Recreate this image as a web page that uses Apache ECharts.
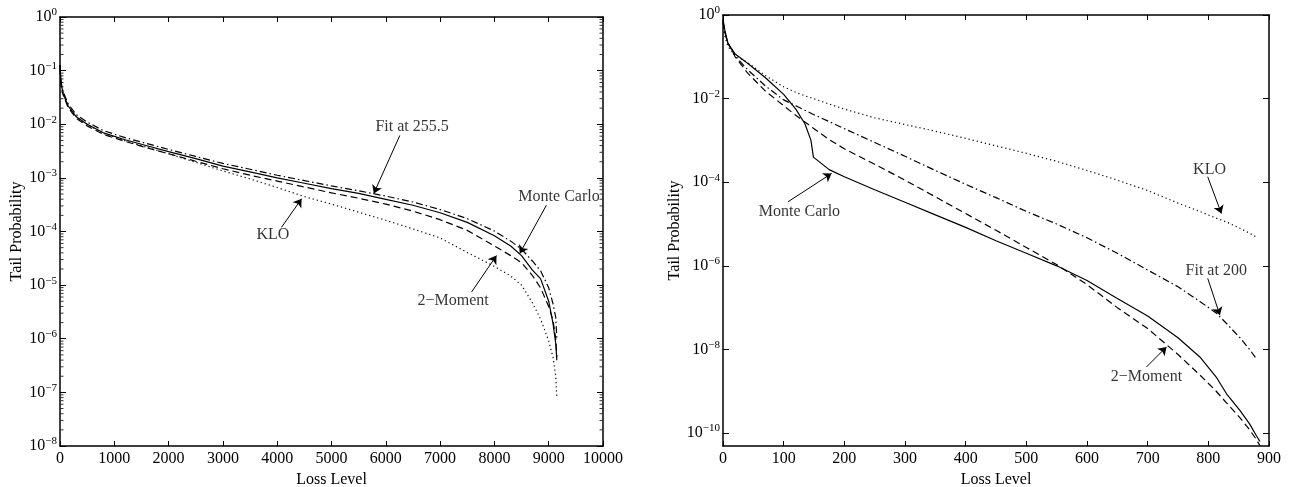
<!DOCTYPE html>
<html><head><meta charset="utf-8">
<script src="https://cdn.jsdelivr.net/npm/echarts@6/dist/echarts.min.js"></script>
<style>html,body{margin:0;padding:0;background:#fff}#c{width:1293px;height:487px}</style>
</head><body><div id="c"></div>
<script>
// ---------- Left panel data ----------
const leftX = [0, 20, 60, 150, 300, 500, 800, 1200, 1600, 2000, 2500, 3000, 3500, 4000, 4500, 5000, 5500, 6000, 6500, 7000, 7500, 8000, 8300, 8500, 8700, 8850, 9000, 9080, 9130, 9150];
const leftMonteCarlo = [1.26e-1, 5.62e-2, 3.72e-2, 2.19e-2, 1.38e-2, 1.0e-2, 6.92e-3, 5.13e-3, 3.98e-3, 3.09e-3, 2.29e-3, 1.66e-3, 1.29e-3, 1.0e-3, 7.94e-4, 6.31e-4, 5.13e-4, 3.98e-4, 3.09e-4, 2.24e-4, 1.48e-4, 8.32e-5, 5.37e-5, 3.55e-5, 1.91e-5, 1.32e-5, 5.01e-6, 1.91e-6, 8.13e-7, 3.98e-7];
const leftFit255 = [1.26e-1, 6.03e-2, 3.98e-2, 2.40e-2, 1.51e-2, 1.10e-2, 7.59e-3, 5.62e-3, 4.37e-3, 3.39e-3, 2.51e-3, 1.86e-3, 1.45e-3, 1.12e-3, 8.91e-4, 7.08e-4, 5.75e-4, 4.57e-4, 3.55e-4, 2.57e-4, 1.74e-4, 1.02e-4, 6.61e-5, 4.68e-5, 2.82e-5, 1.86e-5, 8.91e-6, 4.47e-6, 2.51e-6, 1.0e-6];
const leftTwoMoment = [1.12e-1, 5.25e-2, 3.47e-2, 2.04e-2, 1.29e-2, 9.33e-3, 6.46e-3, 4.79e-3, 3.63e-3, 2.82e-3, 2.04e-3, 1.48e-3, 1.12e-3, 8.71e-4, 6.76e-4, 5.25e-4, 4.17e-4, 3.24e-4, 2.40e-4, 1.66e-4, 1.05e-4, 5.37e-5, 3.55e-5, 2.63e-5, 1.51e-5, 8.91e-6, 3.98e-6, 2.19e-6, 1.0e-6, 4.57e-7];
const leftKLO = [1.26e-1, 5.62e-2, 3.72e-2, 2.19e-2, 1.38e-2, 1.0e-2, 6.76e-3, 4.90e-3, 3.72e-3, 2.82e-3, 1.95e-3, 1.35e-3, 9.55e-4, 6.61e-4, 4.47e-4, 3.24e-4, 2.29e-4, 1.62e-4, 1.12e-4, 7.59e-5, 4.07e-5, 2.24e-5, 1.48e-5, 1.0e-5, 4.68e-6, 2.34e-6, 9.12e-7, 4.47e-7, 2.0e-7, 7.59e-8];
const leftXTicks = [0, 1000, 2000, 3000, 4000, 5000, 6000, 7000, 8000, 9000, 10000];
const leftDecades = [1e-8, 1e-7, 1e-6, 1e-5, 1e-4, 1e-3, 1e-2, 1e-1, 1];

// ---------- Right panel data ----------
const rightX = [0, 3, 8, 20, 40, 70, 100, 120, 135, 145, 149, 175, 200, 250, 300, 350, 400, 450, 500, 550, 600, 650, 700, 750, 786, 813, 830, 852, 868, 879, 885];
const rightMonteCarlo = [7.94e-1, 4.37e-1, 2.09e-1, 1.17e-1, 7.08e-2, 3.16e-2, 1.26e-2, 5.62e-3, 2.51e-3, 1.0e-3, 3.98e-4, 2.0e-4, 1.35e-4, 6.61e-5, 3.31e-5, 1.66e-5, 8.32e-6, 3.98e-6, 2.0e-6, 1.0e-6, 4.47e-7, 1.66e-7, 6.31e-8, 1.91e-8, 6.61e-9, 2.19e-9, 8.71e-10, 3.47e-10, 1.66e-10, 8.71e-11, 6.31e-11];
const rightTwoMoment = [7.08e-1, 3.80e-1, 2.19e-1, 1.0e-1, 4.17e-2, 1.51e-2, 6.76e-3, 3.98e-3, 2.75e-3, 2.19e-3, 1.95e-3, 1.05e-3, 6.31e-4, 2.69e-4, 1.12e-4, 4.47e-5, 1.78e-5, 7.08e-6, 2.75e-6, 1.07e-6, 3.55e-7, 1.0e-7, 3.16e-8, 7.59e-9, 2.45e-9, 1.0e-9, 5.25e-10, 2.34e-10, 1.20e-10, 7.08e-11, 5.01e-11];
const rightFit200 = [7.08e-1, 3.80e-1, 2.19e-1, 1.05e-1, 5.01e-2, 2.0e-2, 9.33e-3, 6.76e-3, 5.25e-3, 4.47e-3, 4.17e-3, 2.82e-3, 1.91e-3, 8.91e-4, 4.17e-4, 1.91e-4, 8.91e-5, 4.27e-5, 2.0e-5, 1.0e-5, 4.68e-6, 2.0e-6, 7.94e-7, 3.16e-7, 1.41e-7, 7.41e-8, 4.17e-8, 1.91e-8, 1.0e-8, 6.03e-9, null];
const rightKLO = [6.31e-1, 3.16e-1, 1.78e-1, 1.07e-1, 7.41e-2, 3.55e-2, 1.91e-2, 1.41e-2, 1.17e-2, 1.05e-2, 1.0e-2, 7.41e-3, 5.62e-3, 3.47e-3, 2.40e-3, 1.66e-3, 1.12e-3, 7.41e-4, 4.90e-4, 3.16e-4, 1.91e-4, 1.12e-4, 6.31e-5, 3.16e-5, 2.0e-5, 1.38e-5, 1.12e-5, 7.94e-6, 6.03e-6, 4.90e-6, null];
const rightXTicks = [0, 100, 200, 300, 400, 500, 600, 700, 800, 900];
const rightDecades = [1e-10, 1e-8, 1e-6, 1e-4, 1e-2, 1];

// ---------- Annotations (text anchor, arrow start, arrow tip) ----------
const leftNotes = [
  { text: 'KLO', at: [3920, 8.51e-5], from: [4080, 1.20e-4], to: [4449, 4.07e-4] },
  { text: 'Fit at 255.5', at: [6484, 8.91e-3], from: [6258, 6.17e-3], to: [5779, 5.13e-4] },
  { text: 'Monte Carlo', at: [9190, 4.47e-4], from: [8958, 3.09e-4], to: [8467, 3.89e-5] },
  { text: '2\u2212Moment', at: [7239, 5.01e-6], from: [7578, 7.41e-6], to: [8038, 3.55e-5] }
];
const rightNotes = [
  { text: 'Monte Carlo', at: [126, 1.95e-5], from: [107, 3.39e-5], to: [179, 1.62e-4] },
  { text: 'KLO', at: [802, 1.95e-4], from: [799, 1.35e-4], to: [821.5, 1.78e-5] },
  { text: 'Fit at 200', at: [813, 7.41e-7], from: [799, 5.01e-7], to: [819, 6.61e-8] },
  { text: '2\u2212Moment', at: [698, 2.19e-9], from: [698, 3.80e-9], to: [731, 1.15e-8] }
];

// ---------- Building the option ----------
const FONT = 'Liberation Serif';

// minor tick values (2..9 within each decade)
const minorValues = decs => {
  const out = [];
  decs.slice(0, -1).forEach(d => { for (let k = 2; k <= 9; k++) out.push(d * k); });
  return out;
};

function supLabel(v) {
  const e = Math.round(Math.log10(v));
  return '{b|10}{s|' + (e === 0 ? '0' : '\u2212' + (-e)) + '}';
}
const richLab = {
  b: { fontFamily: FONT, fontSize: 16, color: '#000' },
  s: { fontFamily: FONT, fontSize: 11, color: '#000', padding: [0, 0, 9, 0] }
};
const lineAx = { show: true, onZero: false, lineStyle: { color: '#000', width: 1.5 } };

function xAx(grid, pos, max, ticks, name) {
  return {
    type: 'value', gridIndex: grid, position: pos, min: 0, max: max, interval: ticks[1] - ticks[0],
    axisLine: lineAx,
    axisTick: { show: true, inside: true, length: 5, lineStyle: { color: '#000', width: 1 } },
    axisLabel: pos === 'bottom'
      ? { show: true, fontFamily: FONT, fontSize: 16, color: '#000', margin: 5, formatter: v => String(v) }
      : { show: false },
    splitLine: { show: false },
    name: pos === 'bottom' ? name : '',
    nameLocation: 'middle', nameGap: 23,
    nameTextStyle: { fontFamily: FONT, fontSize: 16, color: '#000' }
  };
}
function yAx(grid, pos, min, max, tickVals, labels, name, gap) {
  return {
    type: 'log', logBase: 10, gridIndex: grid, position: pos, min: min, max: max,
    axisLine: lineAx,
    axisTick: { show: true, inside: true, length: 6, customValues: tickVals, lineStyle: { color: '#000', width: 1 } },
    axisLabel: labels
      ? { show: true, customValues: tickVals, formatter: supLabel, margin: 3, rich: richLab }
      : { show: false },
    minorTick: { show: false },
    splitLine: { show: false },
    name: name || '', nameLocation: 'middle', nameGap: gap || 0,
    nameTextStyle: { fontFamily: FONT, fontSize: 16, color: '#000' }
  };
}

const pairs = (xs, ys) => xs.map((x, i) => [x, ys[i]]);
function curve(name, xs, ys, xi, yi, type) {
  return {
    name: name, type: 'line', xAxisIndex: xi, yAxisIndex: yi, data: pairs(xs, ys),
    showSymbol: false, symbol: 'none', connectNulls: false, clip: true,
    lineStyle: { color: '#000', width: 1.2, type: type },
    emphasis: { disabled: true }, silent: true, animation: false
  };
}
function notes(list, xi, yi) {
  return {
    type: 'scatter', xAxisIndex: xi, yAxisIndex: yi, symbolSize: 1,
    itemStyle: { color: 'rgba(0,0,0,0)' },
    data: list.map(n => [n.at[0], n.at[1], n.text]),
    label: { show: true, position: 'inside', formatter: p => p.value[2], fontFamily: FONT, fontSize: 16, color: '#000' },
    silent: true, animation: false,
    markLine: {
      silent: true, animation: false, symbol: ['none', 'arrow'], symbolSize: 8,
      lineStyle: { color: '#000', width: 1, type: 'solid' }, label: { show: false },
      itemStyle: { color: '#000' },
      emphasis: { disabled: true },
      data: list.map(n => [{ coord: n.from }, { coord: n.to }])
    }
  };
}
// short inward minor tick marks on the left/right frame edges of the left panel
function minorTickMarks(xEdge, shift) {
  return {
    type: 'scatter', xAxisIndex: 0, yAxisIndex: 0,
    data: minorValues(leftDecades).map(v => [xEdge, v]),
    symbol: 'rect', symbolSize: [3, 1], symbolOffset: [shift, 0],
    itemStyle: { color: '#000' }, silent: true, animation: false, clip: false,
    emphasis: { disabled: true }
  };
}

const DASH = [7, 4], DASHDOT = [7, 3, 1.5, 3], DOT = [1.2, 3];

const option = {
  backgroundColor: '#fff',
  animation: false,
  grid: [
    { left: 60, top: 17, width: 543, height: 429, containLabel: false, outerBoundsMode: 'none' },
    { left: 723, top: 15, width: 546, height: 431, containLabel: false, outerBoundsMode: 'none' }
  ],
  xAxis: [
    xAx(0, 'bottom', 10000, leftXTicks, 'Loss Level'),
    xAx(0, 'top', 10000, leftXTicks),
    xAx(1, 'bottom', 900, rightXTicks, 'Loss Level'),
    xAx(1, 'top', 900, rightXTicks)
  ],
  yAxis: [
    yAx(0, 'left', 1e-8, 1, leftDecades, true, 'Tail Probability', 35),
    yAx(0, 'right', 1e-8, 1, leftDecades, false),
    yAx(1, 'left', 4.9e-11, 1, rightDecades, true, 'Tail Probability', 40),
    yAx(1, 'right', 4.9e-11, 1, rightDecades, false)
  ],
  series: [
    minorTickMarks(0, 2),
    minorTickMarks(10000, -2),
    curve('Monte Carlo', leftX, leftMonteCarlo, 0, 0, 'solid'),
    curve('Fit at 255.5', leftX, leftFit255, 0, 0, DASHDOT),
    curve('2-Moment', leftX, leftTwoMoment, 0, 0, DASH),
    curve('KLO', leftX, leftKLO, 0, 0, DOT),
    notes(leftNotes, 0, 0),
    curve('Monte Carlo', rightX, rightMonteCarlo, 2, 2, 'solid'),
    curve('Fit at 200', rightX, rightFit200, 2, 2, DASHDOT),
    curve('2-Moment', rightX, rightTwoMoment, 2, 2, DASH),
    curve('KLO', rightX, rightKLO, 2, 2, DOT),
    notes(rightNotes, 2, 2)
  ]
};
const chart = echarts.init(document.getElementById('c'), null, { renderer: 'canvas' });
chart.setOption(option);
</script></body></html>
